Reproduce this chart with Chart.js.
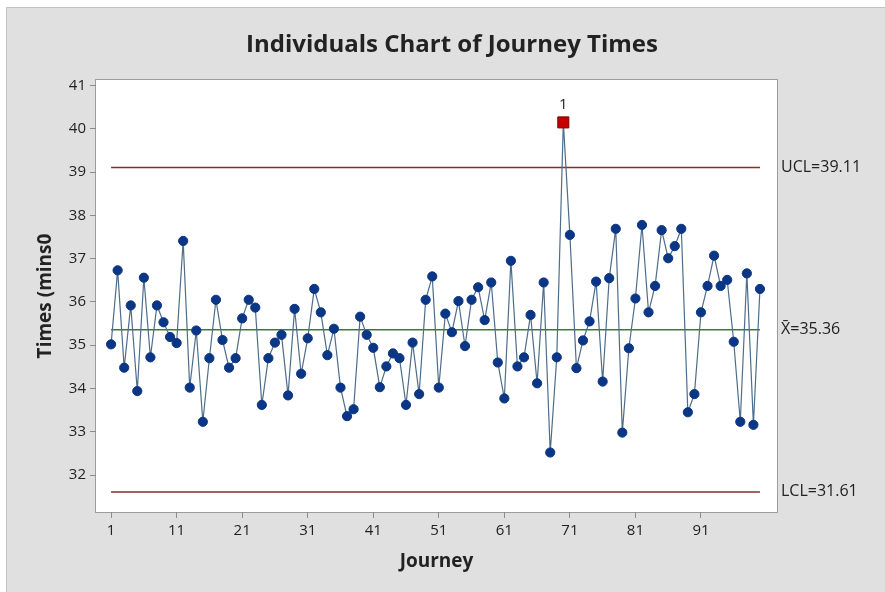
<!DOCTYPE html>
<html lang="en">
<head>
<meta charset="UTF-8">
<title>Individuals Chart of Journey Times</title>
<script src="https://cdn.jsdelivr.net/npm/chart.js"></script>
<style>
  html, body { margin: 0; padding: 0; background: #fff; }
  canvas { display: block; }
</style>
</head>
<body>
<canvas id="iChart" width="885" height="592"></canvas>
<script>
// Journey times in minutes, one per journey (1..100)
const journeyTimes = [
  35.02, 36.73, 34.48, 35.92, 33.94, 36.56, 34.72, 35.92, 35.53, 35.19,
  35.05, 37.41, 34.02, 35.34, 33.23, 34.70, 36.05, 35.12, 34.48, 34.70,
  35.62, 36.05, 35.87, 33.62, 34.70, 35.06, 35.24, 33.84, 35.84, 34.34,
  35.16, 36.30, 35.76, 34.77, 35.38, 34.02, 33.36, 33.52, 35.66, 35.24,
  34.94, 34.03, 34.51, 34.81, 34.70, 33.62, 35.06, 33.87, 36.05, 36.59,
  34.02, 35.73, 35.30, 36.02, 34.98, 36.05, 36.34, 35.58, 36.45, 34.60,
  33.77, 36.95, 34.51, 34.72, 35.70, 34.12, 36.45, 32.52, 34.72, 40.15,
  37.55, 34.47, 35.11, 35.55, 36.47, 34.16, 36.55, 37.69, 32.98, 34.93,
  36.08, 37.78, 35.76, 36.37, 37.66, 37.01, 37.29, 37.69, 33.45, 33.87,
  35.76, 36.37, 37.07, 36.37, 36.51, 35.08, 33.23, 36.66, 33.16, 36.30
];
const journeys = journeyTimes.map((_, i) => i + 1);

// control limits
const ucl = 39.11;
const centerLine = 35.36;
const lcl = 31.61;

// journeys that fail test 1 (beyond the limits)
const flagged = [70];

const xTicks = [1, 11, 21, 31, 41, 51, 61, 71, 81, 91];
const yTicks = [32, 33, 34, 35, 36, 37, 38, 39, 40, 41];
const limitTicks = [lcl, centerLine, ucl];
const limitLabels = ['LCL=31.61', 'X\u0304=35.36', 'UCL=39.11'];

const FONT = "'Open Sans', 'Noto Sans', sans-serif";
const TEXT = '#222';

const isFlagged = c => flagged.includes(journeys[c.dataIndex]);
const flatLine = v => [{ x: journeys[0], y: v }, { x: journeys[journeys.length - 1], y: v }];

// gray panel + white plot area with a frame
const framePlugin = {
  id: 'frame',
  beforeDraw(chart) {
    const { ctx, chartArea: a, width, height } = chart;
    ctx.save();
    ctx.fillStyle = '#fff';
    ctx.fillRect(0, 0, width, height);
    ctx.fillStyle = '#e0e0e0';
    ctx.fillRect(7, 8, width - 7, height - 8);
    ctx.strokeStyle = '#c2c2c2';
    ctx.lineWidth = 1;
    ctx.strokeRect(6.5, 7.5, width, height);
    ctx.fillStyle = '#fff';
    ctx.fillRect(a.left, a.top, a.width, a.height);
    ctx.strokeStyle = '#9c9c9c';
    ctx.strokeRect(a.left - 0.5, a.top - 0.5, a.width + 1, a.height + 1);
    ctx.restore();
  }
};

// test number written above each flagged point
const testLabelPlugin = {
  id: 'testLabel',
  afterDatasetsDraw(chart) {
    const { ctx } = chart;
    const meta = chart.getDatasetMeta(0);
    ctx.save();
    ctx.font = '15px ' + FONT;
    ctx.fillStyle = TEXT;
    ctx.textAlign = 'center';
    ctx.textBaseline = 'bottom';
    flagged.forEach(j => {
      const pt = meta.data[journeys.indexOf(j)];
      ctx.fillText('1', pt.x, pt.y - 10);
    });
    ctx.restore();
  }
};

const yMin = 31.145, yMax = 41.13;

new Chart(document.getElementById('iChart'), {
  type: 'line',
  data: {
    datasets: [
      {
        data: journeys.map((j, i) => ({ x: j, y: journeyTimes[i] })),
        borderColor: '#4d6d8b',
        borderWidth: 1.2,
        tension: 0,
        pointStyle: c => isFlagged(c) ? 'rect' : 'circle',
        pointRadius: c => isFlagged(c) ? 7.8 : 4.6,
        pointBackgroundColor: c => isFlagged(c) ? '#c40000' : '#0a3685',
        pointBorderColor: c => isFlagged(c) ? '#7a0000' : '#0a3685',
        pointBorderWidth: 1
      },
      { data: flatLine(ucl), borderColor: '#842e2e', borderWidth: 1.5, pointRadius: 0 },
      { data: flatLine(centerLine), borderColor: '#3a7a3a', borderWidth: 1.5, pointRadius: 0 },
      { data: flatLine(lcl), borderColor: '#842e2e', borderWidth: 1.5, pointRadius: 0 }
    ]
  },
  options: {
    responsive: false,
    animation: false,
    layout: { padding: { left: 19, top: 8, right: 0, bottom: 0 } },
    plugins: {
      legend: { display: false },
      tooltip: { enabled: false },
      title: {
        display: true,
        text: 'Individuals Chart of Journey Times',
        color: TEXT,
        font: { family: FONT, size: 24, weight: 'bold' },
        padding: { top: 23, bottom: 20.2 }
      }
    },
    scales: {
      x: {
        type: 'linear',
        min: -1.3,
        max: 102.6,
        afterBuildTicks: s => { s.ticks = xTicks.map(v => ({ value: v })); },
        afterFit: s => { s.height = 80; },
        grid: { drawOnChartArea: false, drawTicks: true, tickLength: 6, color: '#8c8c8c' },
        border: { display: false },
        ticks: { color: TEXT, font: { family: FONT, size: 15 }, padding: 4, maxRotation: 0, autoSkip: false },
        title: {
          display: true,
          text: 'Journey',
          color: TEXT,
          font: { family: FONT, size: 19, weight: 'bold' },
          padding: { top: 0, bottom: 18.6 }
        }
      },
      y: {
        position: 'left',
        min: yMin,
        max: yMax,
        afterBuildTicks: s => { s.ticks = yTicks.map(v => ({ value: v })); },
        afterFit: s => { s.width = 77; },
        grid: { drawOnChartArea: false, drawTicks: true, tickLength: 6, color: '#8c8c8c' },
        border: { display: false },
        ticks: { color: TEXT, font: { family: FONT, size: 15 }, padding: 4 },
        title: {
          display: true,
          text: 'Times (mins0',
          color: TEXT,
          font: { family: FONT, size: 19, weight: 'bold' },
          padding: { top: 15.6, bottom: 0 }
        }
      },
      limits: {
        position: 'right',
        min: yMin,
        max: yMax,
        afterBuildTicks: s => { s.ticks = limitTicks.map(v => ({ value: v })); },
        afterFit: s => { s.width = 108; },
        grid: { display: false, drawTicks: false, tickLength: 0 },
        border: { display: false },
        ticks: {
          color: TEXT,
          font: { family: FONT, size: 16 },
          padding: 4,
          callback: v => limitLabels[limitTicks.indexOf(v)]
        }
      }
    }
  },
  plugins: [framePlugin, testLabelPlugin]
});
</script>
</body>
</html>
